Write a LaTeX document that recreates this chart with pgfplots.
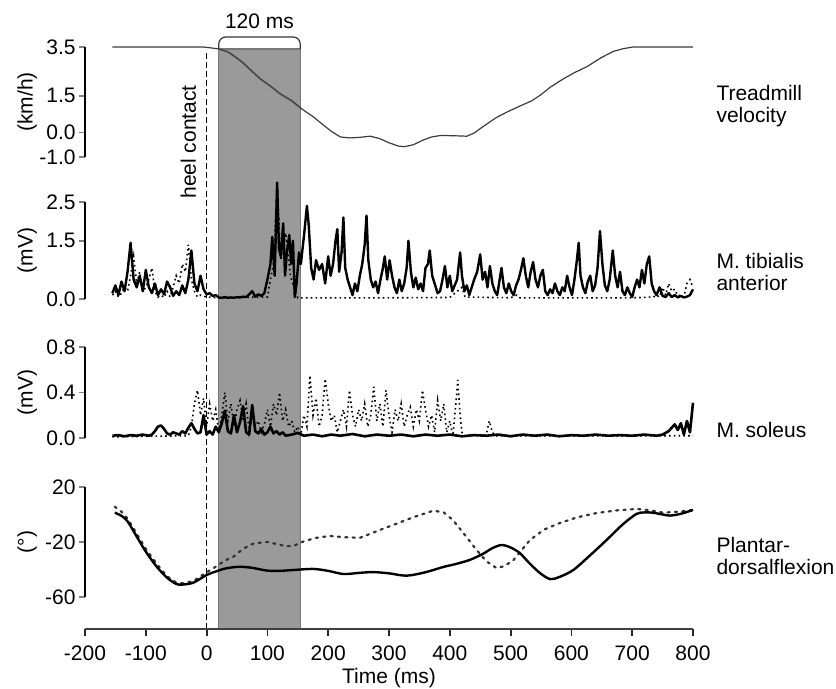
\documentclass[border=0pt]{standalone}
\usepackage{fontspec}
\setmainfont{Liberation Sans}
\usepackage{pgfplots}
\pgfplotsset{compat=1.18}

\definecolor{shade}{RGB}{154,154,154}
\definecolor{shadeedge}{RGB}{118,118,118}
\definecolor{vel}{RGB}{60,60,60}

% common style of the four stacked panels
\pgfplotsset{
  panel/.style={
    anchor=south west, scale only axis, width=304pt,
    xmin=-200, xmax=800, clip=false,
    hide x axis, axis y line*=left,
    tick align=outside, major tick length=3pt,
    y axis line style={line width=0.8pt},
    ytick style={line width=0.8pt},
    yticklabel style={inner sep=1.5pt},
    every axis y label/.style={at={(axis description cs:-0.095,0.5)},rotate=90,anchor=center},
  },
}
\tikzset{side/.style={anchor=west, align=left, inner sep=0pt, font=\fontsize{10.5}{11}\selectfont}}

\begin{document}
\fontsize{10.5}{12.6}\selectfont
\begin{tikzpicture}
\useasboundingbox (0,0) rectangle (418pt,344.5pt);

% background: shaded window, heel contact line, time axis
\begin{axis}[
  at={(42.5pt,30pt)}, anchor=south west, scale only axis,
  width=304pt, height=291pt,
  xmin=-200, xmax=800, ymin=-629, ymax=-47,
  axis x line*=bottom, hide y axis, axis on top,
  xtick={-200,-100,...,800},
  xticklabels={-200,-100,0,100,200,300,400,500,600,700,800},
  xticklabel style={yshift=-1pt},
  tick align=outside, major tick length=3.5pt,
  x axis line style={line width=0.9pt, black!75},
  xtick style={line width=0.9pt, black!85},
  xlabel={Time (ms)}, xlabel style={yshift=3pt},
  clip=false]
\addplot[fill=shade, draw=shadeedge, line width=0.7pt]
  coordinates {(20,-629) (20,-49) (154,-49) (154,-629) (20,-629)};
\addplot[black, line width=0.7pt, dash pattern=on 3pt off 1.6pt]
  coordinates {(0,-629) (0,-50)};
\draw[black!80, line width=0.6pt, rounded corners=3.5pt]
  (axis cs:20,-49) -- (axis cs:20,-37) -- (axis cs:154,-37) -- (axis cs:154,-49);
\node at (axis cs:87,-21) {120 ms};
\node[rotate=90] at (axis cs:-30,-142) {heel contact};
\end{axis}

% Treadmill velocity
\begin{axis}[panel, at={(42.5pt,266pt)}, height=55pt,
  ymin=-1, ymax=3.5, ytick={-1,0,1.5,3.5},
  yticklabels={-1.0,0.0,1.5,3.5}, ylabel={(km/h)}]
\addplot[gray, line width=1.5pt, opacity=0.45]
  coordinates {(20,3.42) (35,3.3) (47,3.1) (60,2.85) (75,2.5) (88,2.2) (105,1.9) (120,1.6) (140,1.3) (154,1.0)};
\addplot[vel, line width=0.6pt] coordinates {
(-155,3.5) (-6,3.5) (5,3.47) (20,3.42) (35,3.3) (47,3.1) (60,2.85) (75,2.5)
(88,2.2) (105,1.9) (120,1.6) (140,1.3) (157,0.96) (175,0.65) (190,0.35)
(205,0.05) (220,-0.18) (235,-0.22) (250,-0.2) (269,-0.15) (285,-0.25)
(300,-0.42) (315,-0.55) (325,-0.58) (340,-0.5) (355,-0.32) (370,-0.18)
(385,-0.12) (405,-0.13) (428,-0.15) (440,-0.02) (455,0.25) (477,0.62)
(495,0.85) (515,1.08) (535,1.3) (550,1.55) (565,1.85) (587,2.2) (605,2.45)
(626,2.7) (648,3.05) (669,3.32) (685,3.43) (702,3.5) (800,3.5)};
\node[side] at (axis description cs:1.038,0.464) {Treadmill\\velocity};
\end{axis}

% M. tibialis anterior
\begin{axis}[panel, at={(42.5pt,195pt)}, height=48.5pt,
  ymin=0, ymax=2.5, ytick={0,1.5,2.5},
  yticklabels={0.0,1.5,2.5}, ylabel={(mV)}]
\addplot[black, line width=0.8pt, dash pattern=on 0.8pt off 1.6pt] coordinates {
(-155,0.1) (-150,0.2) (-145,0.05) (-140,0.15) (-135,0.3) (-130,0.2) (-125,0.6)
(-120,1.1) (-115,0.4) (-110,0.7) (-105,0.2) (-100,0.3) (-95,0.5) (-90,0.8)
(-85,0.2) (-80,0.05) (-75,0.1) (-70,0.04) (-65,0.2) (-60,0.05) (-55,0.3)
(-50,0.6) (-45,0.4) (-40,0.9) (-35,0.7) (-30,1.4) (-25,0.5) (-20,0.2)
(-15,0.05) (-10,0.1) (0,0.05) (20,0.03) (100,0.05) (105,0.5) (110,0.9)
(116,2.9) (122,1.0) (130,1.7) (138,0.6) (145,0.2) (150,0.03) (300,0.03)
(400,0.04) (420,0.3) (425,0.05) (500,0.03) (510,0.1) (515,0.03) (700,0.03)
(735,0.05) (740,0.1) (745,0.05) (750,0.3) (755,0.1) (760,0.4) (765,0.2)
(770,0.25) (775,0.08) (780,0.1) (785,0.05) (790,0.4) (795,0.5) (800,0.3)};
\addplot[black, line width=1.2pt, line join=round] coordinates {
(-155,0.15) (-150,0.35) (-145,0.1) (-140,0.45) (-135,0.2) (-130,0.7)
(-125,1.45) (-120,0.5) (-115,0.3) (-110,0.6) (-105,0.2) (-100,0.75)
(-95,0.3) (-90,0.15) (-85,0.4) (-80,0.1) (-75,0.25) (-70,0.12) (-65,0.45)
(-60,0.3) (-55,0.08) (-50,0.2) (-45,0.1) (-40,0.35) (-35,0.15) (-30,0.5)
(-25,1.25) (-20,0.4) (-15,0.2) (-10,0.6) (-5,0.25) (0,0.12) (5,0.15)
(10,0.08) (15,0.1) (20,0.04) (25,0.03) (30,0.05) (35,0.03) (40,0.04)
(45,0.03) (50,0.05) (55,0.04) (60,0.06) (65,0.05) (70,0.12) (75,0.2)
(80,0.06) (85,0.12) (90,0.08) (95,0.15) (100,0.5) (105,0.9) (108,1.6)
(112,0.6) (116,3.0) (119,1.3) (122,1.1) (126,1.95) (129,0.6) (132,1.2)
(136,1.65) (139,0.9) (142,1.5) (145,0.05) (148,0.4) (152,1.2) (155,0.9)
(160,1.6) (165,2.4) (168,1.9) (172,0.8) (176,0.5) (180,1.0) (185,0.75)
(190,0.9) (195,0.4) (200,1.1) (204,0.6) (208,0.9) (212,1.5) (215,1.8)
(218,0.7) (222,1.2) (225,2.1) (228,0.8) (232,0.5) (236,0.3) (240,0.1)
(244,0.4) (248,0.2) (252,0.6) (256,0.9) (260,1.4) (263,2.15) (266,1.0)
(270,0.5) (274,0.3) (278,0.45) (282,0.15) (286,0.5) (290,0.8) (293,1.1)
(297,0.5) (301,1.0) (305,0.6) (309,0.3) (313,0.15) (317,0.5) (321,0.2)
(325,0.4) (329,0.8) (332,1.5) (336,0.7) (340,0.3) (344,0.55) (348,0.25)
(352,0.4) (356,0.2) (360,0.8) (364,0.9) (367,1.25) (371,0.6) (375,0.4)
(380,0.15) (384,0.2) (388,0.5) (392,0.85) (396,0.3) (400,0.6) (404,0.2)
(408,0.35) (412,0.5) (417,1.2) (420,0.6) (424,0.2) (428,0.35) (432,0.1)
(436,0.3) (440,0.5) (445,0.7) (450,1.15) (454,0.5) (458,0.7) (462,0.3)
(466,0.85) (470,0.4) (474,0.2) (478,0.1) (482,0.5) (485,0.8) (489,0.3)
(493,0.15) (497,0.4) (501,0.2) (505,0.1) (509,0.35) (513,0.5) (517,0.75)
(521,1.05) (525,0.6) (529,0.3) (533,0.7) (537,0.95) (541,0.5) (545,0.3)
(549,0.6) (553,0.75) (557,0.2) (561,0.1) (565,0.25) (569,0.15) (573,0.4)
(577,0.2) (581,0.1) (585,0.3) (589,0.2) (593,0.6) (597,0.3) (601,0.1)
(605,0.5) (609,1.0) (612,1.45) (615,0.6) (619,0.3) (623,0.15) (627,0.45)
(631,0.6) (635,0.2) (639,0.35) (643,0.8) (647,1.75) (651,0.9) (655,0.35)
(659,0.2) (663,0.5) (668,1.25) (672,0.6) (676,0.3) (680,0.7) (684,0.2)
(688,0.1) (692,0.3) (696,0.15) (700,0.05) (704,0.3) (708,0.5) (712,0.3)
(716,0.75) (720,0.4) (724,0.9) (728,1.1) (732,0.4) (736,0.2) (740,0.1)
(745,0.3) (750,0.08) (755,0.05) (760,0.15) (765,0.05) (770,0.1) (775,0.04)
(780,0.08) (785,0.04) (790,0.06) (795,0.1) (800,0.25)};
\node[side] at (axis description cs:1.038,0.278) {M. tibialis\\anterior};
\end{axis}

% M. soleus
\begin{axis}[panel, at={(42.5pt,125.5pt)}, height=45.5pt,
  ymin=0, ymax=0.8, ytick={0,0.4,0.8},
  yticklabels={0.0,0.4,0.8}, ylabel={(mV)}]
\addplot[black, line width=0.8pt, dash pattern=on 0.8pt off 1.6pt] coordinates {
(-155,0.01) (-30,0.02) (-25,0.1) (-20,0.3) (-15,0.42) (-10,0.2) (-5,0.35)
(0,0.1) (5,0.3) (10,0.15) (15,0.25) (20,0.05) (25,0.2) (30,0.4) (35,0.15)
(40,0.3) (45,0.1) (50,0.25) (55,0.33) (60,0.15) (65,0.3) (70,0.05) (75,0.2)
(80,0.1) (85,0.15) (90,0.05) (95,0.12) (100,0.25) (105,0.1) (110,0.3)
(115,0.2) (120,0.4) (125,0.15) (130,0.25) (135,0.1) (140,0.15) (145,0.05)
(150,0.1) (155,0.03) (160,0.2) (165,0.1) (170,0.55) (175,0.2) (180,0.35)
(185,0.1) (190,0.2) (195,0.52) (200,0.3) (205,0.15) (210,0.2) (215,0.05)
(220,0.15) (225,0.25) (230,0.1) (235,0.42) (240,0.2) (245,0.1) (250,0.25)
(255,0.15) (260,0.3) (265,0.1) (270,0.2) (275,0.45) (280,0.15) (285,0.3)
(290,0.1) (295,0.42) (300,0.2) (305,0.05) (310,0.25) (315,0.15) (320,0.3)
(325,0.1) (330,0.2) (335,0.27) (340,0.1) (345,0.25) (350,0.15) (355,0.42)
(360,0.25) (365,0.1) (370,0.2) (375,0.05) (380,0.33) (385,0.15) (390,0.3)
(395,0.05) (400,0.15) (405,0.02) (410,0.3) (413,0.51) (417,0.2) (420,0.05)
(425,0.02) (460,0.03) (465,0.15) (470,0.05) (475,0.02) (800,0.02)};
\addplot[black, line width=1.3pt, line join=round] coordinates {
(-155,0.02) (-145,0.025) (-135,0.015) (-125,0.025) (-115,0.02) (-105,0.03)
(-95,0.02) (-90,0.03) (-85,0.06) (-80,0.1) (-75,0.11) (-70,0.08) (-65,0.04)
(-60,0.03) (-55,0.05) (-50,0.04) (-45,0.03) (-40,0.06) (-35,0.04) (-30,0.09)
(-25,0.13) (-20,0.08) (-15,0.04) (-10,0.05) (-5,0.2) (0,0.03) (5,0.06)
(10,0.03) (15,0.1) (20,0.05) (25,0.13) (30,0.24) (35,0.06) (40,0.04)
(45,0.2) (50,0.05) (55,0.14) (60,0.28) (65,0.05) (70,0.03) (75,0.29)
(80,0.06) (85,0.04) (90,0.08) (95,0.03) (100,0.05) (105,0.1) (110,0.04)
(115,0.06) (120,0.03) (125,0.05) (130,0.02) (140,0.03) (150,0.045)
(160,0.02) (175,0.03) (190,0.015) (205,0.03) (220,0.02) (240,0.035)
(260,0.015) (280,0.03) (300,0.02) (320,0.03) (340,0.015) (360,0.03)
(380,0.02) (400,0.03) (420,0.015) (440,0.025) (460,0.02) (480,0.03)
(500,0.015) (520,0.03) (540,0.02) (560,0.03) (580,0.015) (600,0.025)
(620,0.02) (640,0.03) (660,0.02) (680,0.025) (700,0.02) (720,0.03)
(740,0.02) (750,0.03) (760,0.06) (765,0.09) (770,0.12) (775,0.07)
(780,0.13) (785,0.03) (790,0.15) (795,0.05) (800,0.31)};
\node[side] at (axis description cs:1.038,0.088) {M. soleus};
\end{axis}

% Plantar-dorsalflexion
\begin{axis}[panel, at={(42.5pt,46pt)}, height=55pt,
  ymin=-60, ymax=20, ytick={-60,-20,20},
  yticklabels={-60,-20,20}, ylabel={(°)}]
\addplot[black!80, line width=1.1pt, dash pattern=on 1.1pt off 2.6pt, line cap=round] coordinates {
(-151,5.7) (-140,2) (-130,-3) (-115,-14) (-100,-25) (-82,-36) (-65,-45)
(-50,-49.5) (-40,-50) (-22,-48.5) (0,-42) (15,-38) (30,-33.5) (44,-30.7)
(60,-25) (75,-21.5) (88,-20.5) (100,-20) (115,-21.5) (130,-23) (142,-23)
(160,-19.5) (180,-17) (203,-15.6) (225,-16.5) (252,-17) (285,-11.3)
(307,-7.6) (340,-2) (373,2.8) (390,1.5) (405,-4) (425,-15) (444,-25.8)
(460,-34) (477,-39) (490,-37.5) (505,-33) (518,-26) (532,-18.5) (555,-11)
(581,-6.2) (610,-2) (641,1) (675,3) (708,4) (730,3) (751,1.3) (775,2)
(800,3.3)};
\addplot[black, line width=1.2pt, smooth] coordinates {
(-151,1.3) (-140,-1) (-130,-5) (-115,-16) (-100,-27) (-82,-38) (-65,-46)
(-50,-50.5) (-40,-51) (-22,-49.6) (0,-44) (15,-41.5) (27,-39.7) (40,-38.6)
(55,-38) (75,-38.8) (99,-40.8) (120,-41) (142,-40.4) (175,-39.6) (200,-41)
(225,-43.3) (250,-42.5) (274,-41.9) (300,-42.8) (329,-44.5) (360,-42)
(389,-38.2) (410,-36) (433,-33) (455,-28.5) (470,-24.5) (485,-22.2)
(500,-24) (515,-28) (530,-35) (548,-42.5) (565,-47) (580,-45.5) (603,-40.4)
(630,-30) (658,-18.5) (685,-7) (707,0.4) (720,1.5) (734,1.3) (750,0)
(762,-0.8) (780,0.5) (800,3.3)};
\node[side] at (axis description cs:1.038,0.373) {Plantar-\\dorsalflexion};
\end{axis}

\end{tikzpicture}
\end{document}
